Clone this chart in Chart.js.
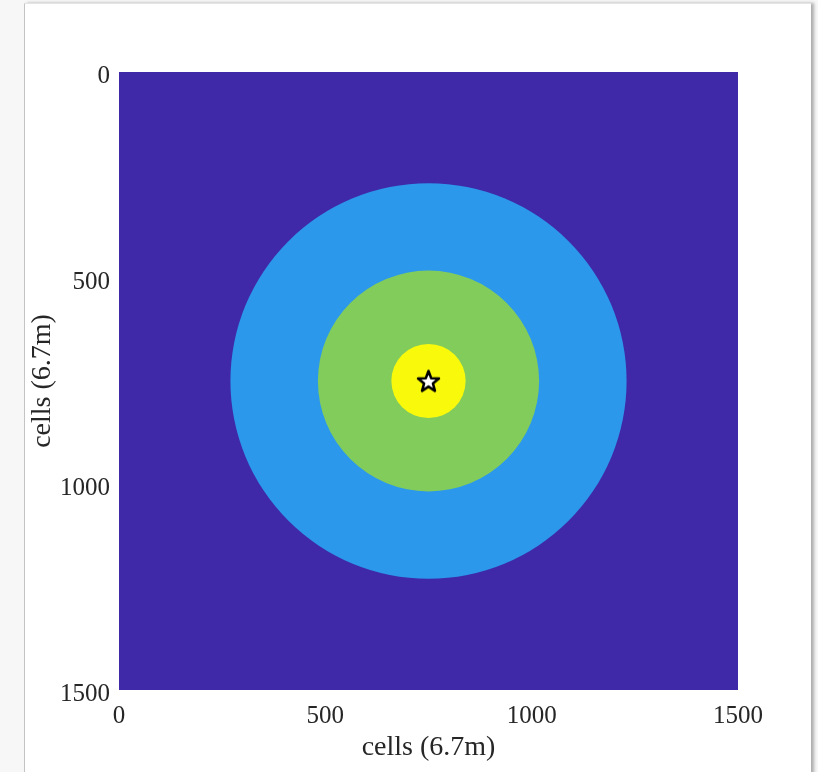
<!DOCTYPE html>
<html>
<head>
<meta charset="utf-8">
<script src="https://cdn.jsdelivr.net/npm/chart.js@4.4.1/dist/chart.umd.min.js"></script>
<style>
    html, body { margin: 0; padding: 0; background: #f7f7f7; overflow: hidden; }
    #card {
        position: absolute; left: 24px; top: 3px; width: 786px; height: 800px;
        background: #fff; border-left: 1px solid #c4c4c4; border-top: 1px solid #e4e4e4;
        box-shadow: 3px 0 3px rgba(0, 0, 0, 0.3);
    }
    #chart { position: absolute; left: 0; top: 0; }
</style>
</head>
<body>
<div id="card"></div>
<canvas id="chart" width="818" height="772"></canvas>
<script>
// domain and ticks (cells)
const axisMin = 0;
const axisMax = 1500;
const tickValues = [0, 500, 1000, 1500];

// concentric zones around the source, outer to inner
const zoneCenterX = 750;
const zoneCenterY = 750;
const zoneRadii = [480, 268, 90];

// source location (star)
const sourceX = [750];
const sourceY = [750];

const fieldColor = '#3F29A9';
const zoneColors = ['#2C98EB', '#82CC5C', '#F9F90C'];

function makeStar(size) {
    const c = document.createElement('canvas');
    c.width = size;
    c.height = size;
    const g = c.getContext('2d');
    const cx = size / 2, cy = size / 2 + 1;
    const outer = size / 2 - 1.5, inner = outer * 0.42;
    g.beginPath();
    for (let i = 0; i < 10; i++) {
        const r = i % 2 === 0 ? outer : inner;
        const a = -Math.PI / 2 + i * Math.PI / 5;
        const px = cx + r * Math.cos(a), py = cy + r * Math.sin(a);
        if (i === 0) g.moveTo(px, py); else g.lineTo(px, py);
    }
    g.closePath();
    g.fillStyle = '#fff';
    g.fill();
    g.lineWidth = 2.5;
    g.lineJoin = 'round';
    g.strokeStyle = '#000';
    g.stroke();
    return c;
}

const zonesPlugin = {
    id: 'zones',
    beforeDatasetsDraw(chart) {
        const { ctx, chartArea, scales } = chart;
        const x = scales.x, y = scales.y;
        ctx.save();
        ctx.fillStyle = fieldColor;
        ctx.fillRect(chartArea.left, chartArea.top, chartArea.right - chartArea.left, chartArea.bottom - chartArea.top);
        const px = x.getPixelForValue(zoneCenterX);
        const py = y.getPixelForValue(zoneCenterY);
        zoneRadii.forEach((r, i) => {
            const rx = Math.abs(x.getPixelForValue(zoneCenterX + r) - px);
            const ry = Math.abs(y.getPixelForValue(zoneCenterY + r) - py);
            ctx.beginPath();
            ctx.ellipse(px, py, rx, ry, 0, 0, Math.PI * 2);
            ctx.fillStyle = zoneColors[i];
            ctx.fill();
        });
        ctx.restore();
    }
};

const serif = "'Liberation Serif', 'Times New Roman', serif";

new Chart(document.getElementById('chart'), {
    type: 'scatter',
    data: {
        datasets: [{
            data: sourceX.map((v, i) => ({ x: v, y: sourceY[i] })),
            pointStyle: makeStar(25),
            pointRadius: 12
        }]
    },
    options: {
        responsive: false,
        animation: false,
        layout: { padding: { left: 0, top: 72, right: 80, bottom: 0 } },
        plugins: { legend: { display: false }, tooltip: { enabled: false } },
        scales: {
            x: {
                type: 'linear',
                min: axisMin,
                max: axisMax,
                afterBuildTicks: s => { s.ticks = tickValues.map(v => ({ value: v })); },
                afterFit: s => { s.height = 82; },
                grid: { display: false, drawTicks: false },
                border: { display: false },
                ticks: { color: '#262626', font: { family: serif, size: 25 }, padding: 11, maxRotation: 0, callback: v => String(v) },
                title: { display: true, text: 'cells (6.7m)', color: '#262626', font: { family: serif, size: 28 }, padding: { top: 0, bottom: 8 } }
            },
            y: {
                type: 'linear',
                reverse: true,
                min: axisMin,
                max: axisMax,
                afterBuildTicks: s => { s.ticks = tickValues.map(v => ({ value: v })); },
                afterFit: s => { s.width = 119; },
                grid: { display: false, drawTicks: false },
                border: { display: false },
                ticks: { color: '#262626', font: { family: serif, size: 25 }, padding: 9, labelOffset: 4, callback: v => String(v) },
                title: { display: true, text: 'cells (6.7m)', color: '#262626', font: { family: serif, size: 28 }, padding: { top: 26, bottom: 0 } }
            }
        }
    },
    plugins: [zonesPlugin]
});
</script>
</body>
</html>
